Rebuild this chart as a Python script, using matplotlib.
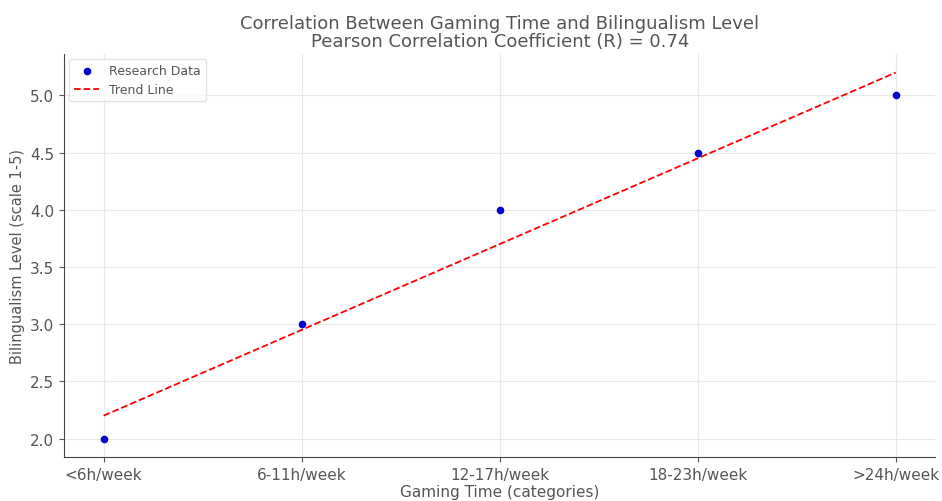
import numpy as np
import matplotlib
matplotlib.use("Agg")
import matplotlib.pyplot as plt

categories = ["<6h/week", "6-11h/week", "12-17h/week", "18-23h/week", ">24h/week"]
bilingualism = [2.0, 3.0, 4.0, 4.5, 5.0]
r_value = 0.74

text_color = "#555555"
plt.rcParams.update({
    "font.family": "DejaVu Sans",
    "text.color": text_color,
    "axes.labelcolor": text_color,
    "xtick.color": text_color,
    "ytick.color": text_color,
})

x = np.arange(len(categories))
slope, intercept = np.polyfit(x, bilingualism, 1)
trend = slope * x + intercept

fig = plt.figure(figsize=(9.42, 5.02), dpi=100)
ax = fig.add_axes([0.068, 0.088, 0.925, 0.802])

ax.scatter(x, bilingualism, color="#0000cc", s=20, label="Research Data", zorder=3)
ax.plot(x, trend, color="red", linestyle="--", linewidth=1.3, label="Trend Line", zorder=2)

ax.set_xticks(x)
ax.set_xticklabels(categories, fontsize=11)
ax.tick_params(axis="y", labelsize=11)
ax.set_xlabel("Gaming Time (categories)", fontsize=11, labelpad=2)
ax.set_ylabel("Bilingualism Level (scale 1-5)", fontsize=10.5)
ax.set_title("Correlation Between Gaming Time and Bilingualism Level\n"
             f"Pearson Correlation Coefficient (R) = {r_value}",
             fontsize=13, color=text_color, linespacing=1.0)

ax.grid(True, color="#e8e8e8", linewidth=0.8)
ax.set_axisbelow(True)
for side in ["top", "right"]:
    ax.spines[side].set_visible(False)
for side in ["left", "bottom"]:
    ax.spines[side].set_color("#444444")

leg = ax.legend(loc="upper left", fontsize=9, frameon=True, borderaxespad=0.4)
leg.get_frame().set_edgecolor("#dddddd")

fig.savefig("out.png", dpi=100)
